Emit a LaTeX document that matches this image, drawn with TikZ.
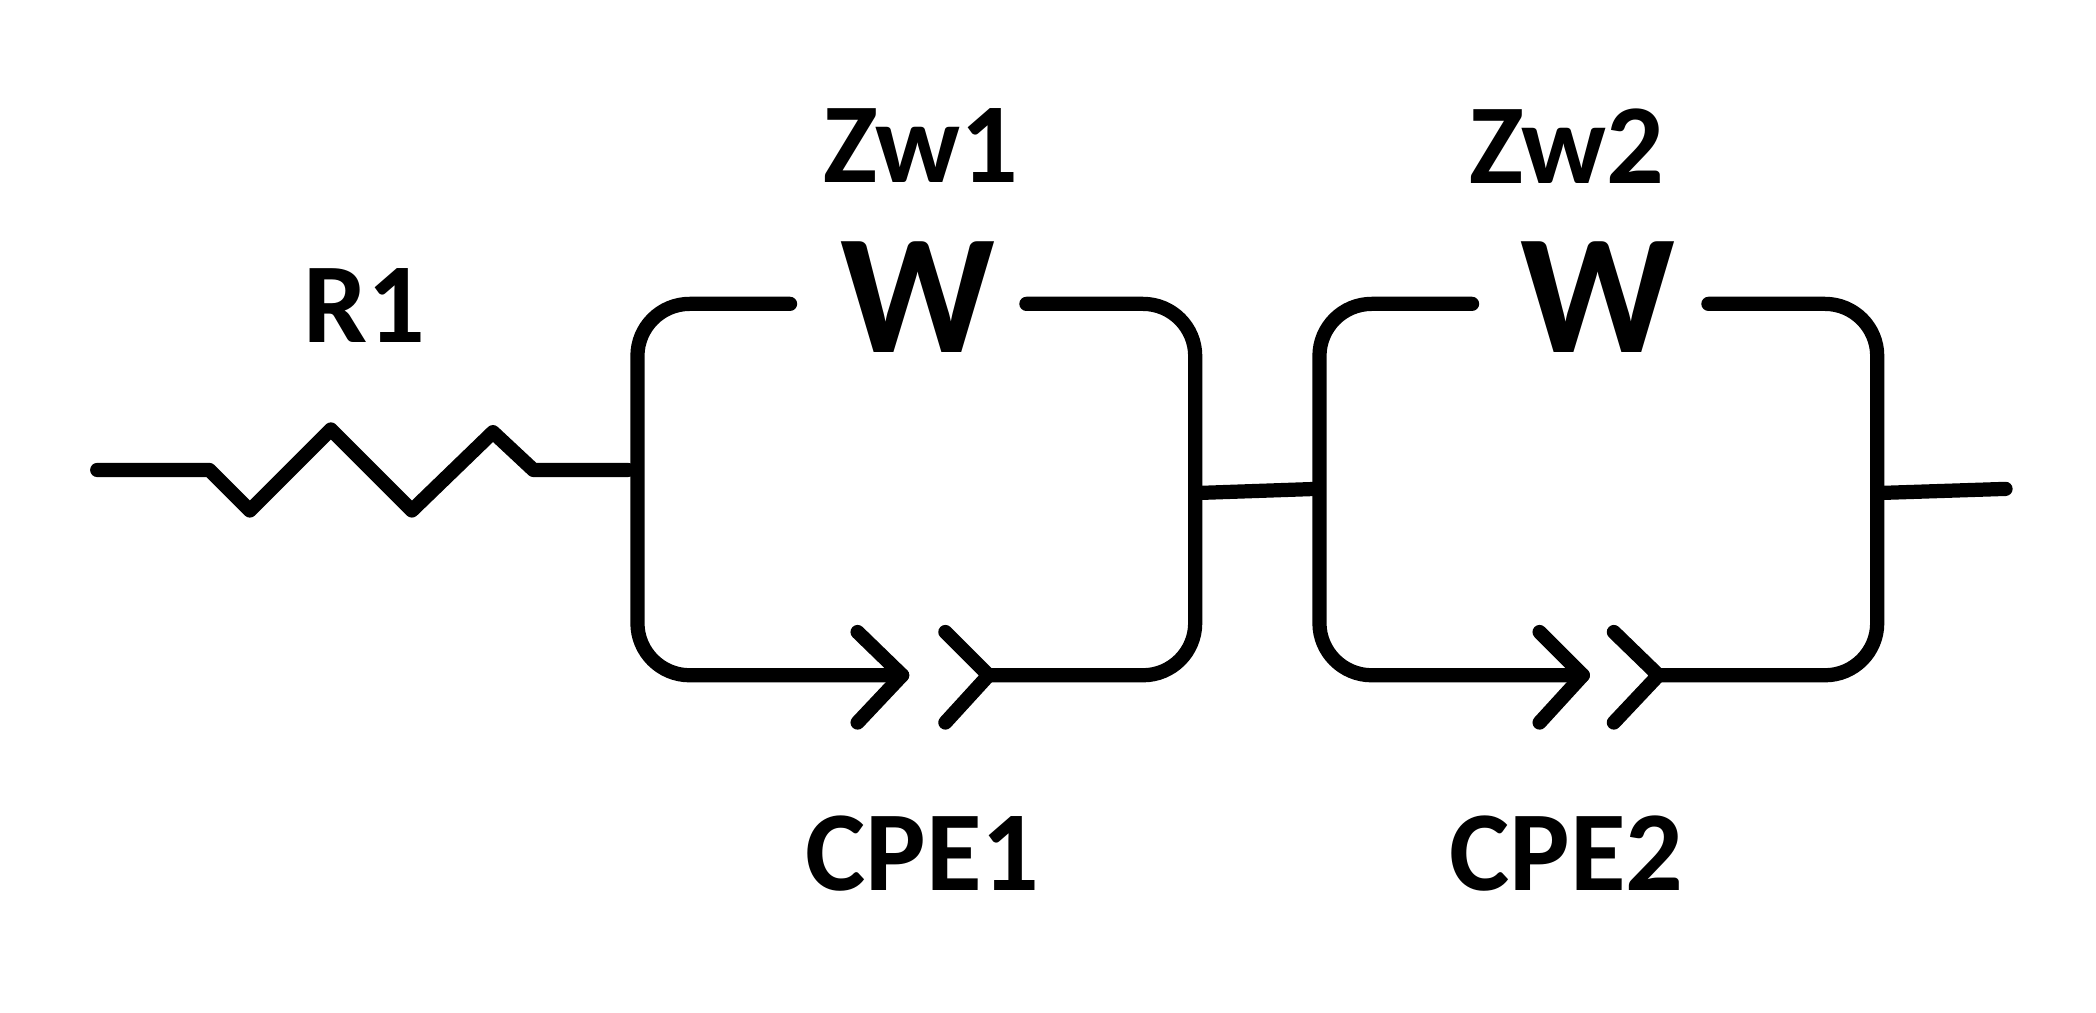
\documentclass[tikz,border=0pt]{standalone}
\usepackage{fontspec}
\setmainfont{Carlito}
\begin{document}
\begin{tikzpicture}[x=0.02cm,y=-0.02cm,
  wire/.style={line width=6pt,line join=round,line cap=round},
  lbl/.style={font=\fontsize{48}{52}\selectfont\bfseries,inner sep=0},
  wl/.style={font=\fontsize{72}{76}\selectfont\bfseries,inner sep=0}]
\useasboundingbox (0,0) rectangle (1552,750);
% resistor
\coordinate (a0) at (72,348); \coordinate (a1) at (465,348);
\draw[wire] (a0) -- (155,348) -- (185,378) -- (245,318) -- (305,378) -- (365,320) -- (395,348) -- (a1);
\node[lbl] (r1) at (270,226) {R1};
% box 1
\draw[wire,rounded corners=22pt] (585,225) -- (472,225) -- (472,500) -- (668,500);
\draw[wire,rounded corners=22pt] (760,225) -- (885,225) -- (885,500) -- (732,500);
\draw[wire] (635,468) -- (668,500) -- (635,535);
\draw[wire] (700,468) -- (732,500) -- (700,535);
\node[lbl] (zw1) at (682,108) {Zw1};
\node[wl] (w1) at (680,220) {W};
\node[lbl] (cpe1) at (683,632) {CPE1};
% link
\coordinate (b0) at (888,365); \coordinate (b1) at (975,362);
\draw[wire] (b0) -- (b1);
% box 2
\draw[wire,rounded corners=22pt] (1090,225) -- (977,225) -- (977,500) -- (1172,500);
\draw[wire,rounded corners=22pt] (1265,225) -- (1390,225) -- (1390,500) -- (1228,500);
\draw[wire] (1140,468) -- (1172,500) -- (1140,535);
\draw[wire] (1195,468) -- (1228,500) -- (1195,535);
\node[lbl] (zw2) at (1160,108) {Zw2};
\node[wl] (w2) at (1183,220) {W};
\node[lbl] (cpe2) at (1160,632) {CPE2};
\coordinate (c0) at (1393,365); \coordinate (c1) at (1485,362);
\draw[wire] (c0) -- (c1);
\end{tikzpicture}
\end{document}
